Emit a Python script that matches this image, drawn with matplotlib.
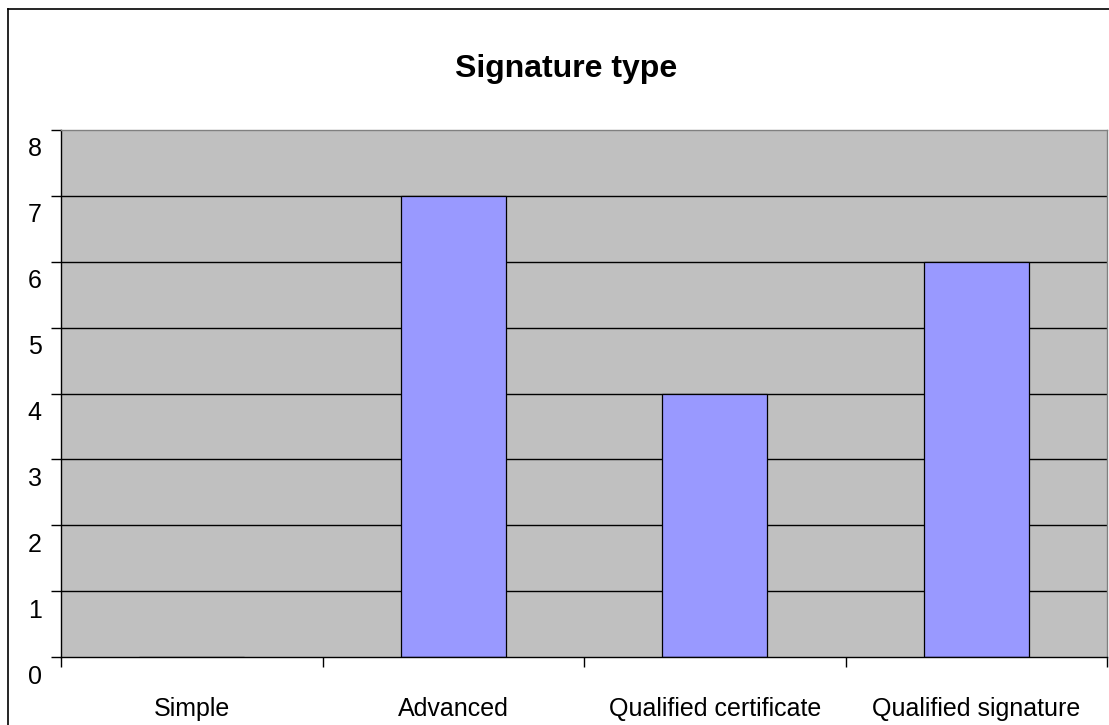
import matplotlib
matplotlib.use("Agg")
import matplotlib.pyplot as plt
import matplotlib.transforms as mtransforms
from matplotlib.lines import Line2D
import numpy as np

categories = ["Simple", "Advanced", "Qualified certificate", "Qualified signature"]
values = [0, 7, 4, 6]
yticks = [0, 1, 2, 3, 4, 5, 6, 7, 8]

plt.rcParams['font.family'] = ['Liberation Sans', 'DejaVu Sans']

W, H = 1109, 725
fig = plt.figure(figsize=(W / 100, H / 100), dpi=100)
fig.patch.set_facecolor('white')

# outer chart frame (only left/top visible in the crop)
fig.add_artist(Line2D([8 / W, 8 / W], [0, 1 - 9 / H], transform=fig.transFigure, color='black', lw=1.2))
fig.add_artist(Line2D([8 / W, 1], [1 - 9 / H, 1 - 9 / H], transform=fig.transFigure, color='black', lw=1.2))

left, right, top, bottom = 61, 1107, 130, 657
ax = fig.add_axes([left / W, 1 - bottom / H, (right - left) / W, (bottom - top) / H])
ax.set_facecolor('#C0C0C0')

x = np.arange(len(categories))
ax.set_xlim(-0.5, len(categories) - 0.5)
ax.set_ylim(0, 8)

for yv in yticks[1:-1]:
    ax.axhline(yv, color='black', lw=1.0, zorder=1)

ax.bar(x, values, width=0.4, color='#9999FF', edgecolor='black', linewidth=0.9, zorder=2)

for s in ['top', 'right']:
    ax.spines[s].set_color('#808080')
    ax.spines[s].set_linewidth(1.0)
for s in ['left', 'bottom']:
    ax.spines[s].set_color('black')
    ax.spines[s].set_linewidth(1.0)

ax.set_yticks(yticks)
ax.set_yticklabels([str(v) for v in yticks], fontsize=18)
ax.tick_params(axis='y', direction='out', length=7, width=1, pad=7)
offset = mtransforms.ScaledTranslation(0, -0.17, fig.dpi_scale_trans)
for lab in ax.get_yticklabels():
    lab.set_transform(lab.get_transform() + offset)

# x ticks at category boundaries; labels at centers
ax.set_xticks(np.arange(len(categories) + 1) - 0.5)
ax.set_xticklabels([])
ax.tick_params(axis='x', direction='out', length=7, width=1)
lab_tr = mtransforms.blended_transform_factory(ax.transData, ax.transAxes) + \
    mtransforms.ScaledTranslation(0, -0.52, fig.dpi_scale_trans)
for xi, lab in zip(x, categories):
    ax.text(xi, 0.0, lab, transform=lab_tr, ha='center', va='center', fontsize=18)

fig.text(566.5 / W, 1 - 69 / H, "Signature type", ha='center', va='center', fontsize=23, fontweight='bold')

fig.savefig("out.png", dpi=100)
